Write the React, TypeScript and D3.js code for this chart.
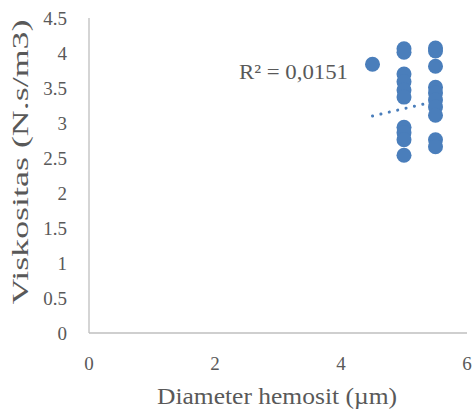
import React from 'react';
import * as d3 from 'd3';

// diameter (µm) and viscosity (N.s/m3)
const diameter = [
  4.5,
  5, 5, 5, 5, 5, 5, 5, 5, 5, 5,
  5.5, 5.5, 5.5, 5.5, 5.5, 5.5, 5.5, 5.5, 5.5, 5.5,
];
const viskositas = [
  3.84,
  4.06, 4.01, 3.70, 3.59, 3.47, 3.37, 2.94, 2.86, 2.76, 2.54,
  4.07, 4.03, 3.81, 3.51, 3.43, 3.33, 3.23, 3.11, 2.76, 2.66,
];

// linear trendline (as drawn), from min x to max x
const trendX = [4.5, 5.5];
const trendY = [3.1, 3.31];
const r2Label = 'R² = 0,0151';

const xTicks = [0, 2, 4, 6];
const yTicks = [0, 0.5, 1, 1.5, 2, 2.5, 3, 3.5, 4, 4.5];

const W = 473;
const H = 410;
const FONT = '"Liberation Serif", "DejaVu Serif", serif';
const TEXT = '#595959';
const AXIS = '#bfbfbf';
const DOT = '#4a7ebb';

export default function App() {
  const margin = { top: 18, right: 6, bottom: 77, left: 89 };

  const x = d3.scaleLinear().domain([0, 6]).range([margin.left, W - margin.right]);
  const y = d3.scaleLinear().domain([0, 4.5]).range([H - margin.bottom, margin.top]);

  const line = d3.line<number>()
    .x((d) => x(d))
    .y((d, i) => y(trendY[i]));

  return (
    <svg width={W} height={H} style={{ position: 'absolute', left: 0, top: 0 }} fontFamily={FONT}>
      <rect width={W} height={H} fill="#fff" />

      {/* axes */}
      <line x1={x(0)} x2={x(0)} y1={y(4.5)} y2={y(0)} stroke={AXIS} strokeWidth={1.3} />
      <line x1={x(0)} x2={x(6)} y1={y(0)} y2={y(0)} stroke={AXIS} strokeWidth={1.3} />

      {yTicks.map((t) => (
        <text key={t} x={x(0) - 22} y={y(t)} dy="0.35em" textAnchor="end" fontSize={19} fill={TEXT}>
          {t}
        </text>
      ))}
      {xTicks.map((t) => (
        <text key={t} x={x(t)} y={y(0) + 30} dy="0.35em" textAnchor="middle" fontSize={19} fill={TEXT}>
          {t}
        </text>
      ))}

      {/* trendline */}
      <path d={line(trendX) || ''} fill="none" stroke={DOT} strokeWidth={3}
        strokeDasharray="0.1 8.5" strokeLinecap="round" />

      {/* points */}
      {diameter.map((d, i) => (
        <circle key={i} cx={x(d)} cy={y(viskositas[i])} r={7.5} fill={DOT} />
      ))}

      <text x={239} y={72} dy="0.35em" fontSize={21} fill={TEXT}
        textLength={109} lengthAdjust="spacingAndGlyphs">{r2Label}</text>

      {/* titles */}
      <text x={277} y={396} dy="0.35em" textAnchor="middle" fontSize={23} fill={TEXT}
        textLength={240} lengthAdjust="spacingAndGlyphs">
        Diameter hemosit (µm)
      </text>
      <text transform={`translate(20, 162) rotate(-90)`} dy="0.35em"
        textAnchor="middle" fontSize={23} fill={TEXT}
        textLength={285} lengthAdjust="spacingAndGlyphs">
        Viskositas (N.s/m3)
      </text>
    </svg>
  );
}
